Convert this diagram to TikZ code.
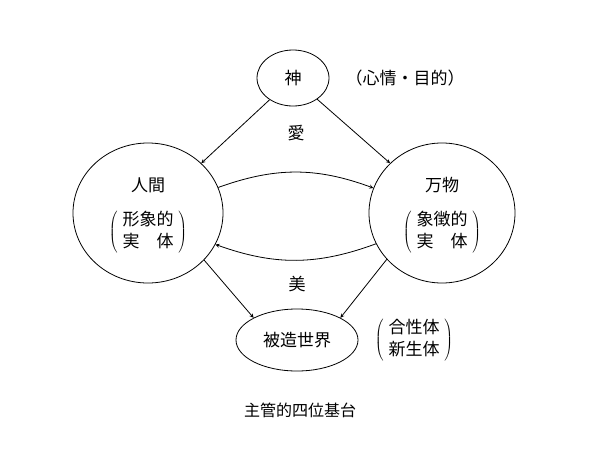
\documentclass[tikz,border=0pt]{standalone}
\usepackage{fontspec}
\setmainfont{Noto Sans CJK JP}
\usetikzlibrary{shapes,arrows}
\usetikzlibrary{positioning}
\newcommand\paren[1]{$\left(\;\mbox{\begin{tabular}{@{}c@{}}#1\end{tabular}}\;\right)$}
\begin{document}
\begin{tikzpicture}[>=stealth, x=1pt, y=-1pt,
font=\fontsize{17}{22}\selectfont,
myell/.style={
  ellipse, draw, thick, inner sep=0pt},
myarrow/.style={->, thick}
]
\useasboundingbox (0,0) rectangle (600,450);
\node[myell, minimum width=72, minimum height=56] (kami) at (293,78) {神};
\node (kamitxt) at (405,78) {（心情・目的）};
\node[myell, minimum width=150, minimum height=140] (ningen) at (148,213) {};
\node (ningent) at (148,185) {人間};
\node (ningenb) at (148,232) {\paren{形象的\\実\hspace{1em}体}};
\node[myell, minimum width=146, minimum height=140] (banbutsu) at (442,213) {};
\node (banbutsut) at (442,185) {万物};
\node (banbutsub) at (442,232) {\paren{象徴的\\実\hspace{1em}体}};
\node[myell, minimum width=122, minimum height=62] (sekai) at (297,340) {被造世界};
\node (sekaitxt) at (414,340) {\paren{合性体\\新生体}};
\node (ai) at (296,133) {愛};
\node (bi) at (297,284) {美};
\node[font=\fontsize{16}{20}\selectfont] (caption) at (300,410) {主管的四位基台};
\draw[myarrow] (kami) -- (ningen.north east);
\draw[myarrow] (kami) -- (banbutsu.north west);
\draw[myarrow] (ningen.20) to [bend left=20] (banbutsu.160);
\draw[myarrow] (banbutsu.-155) to [bend left=20] (ningen.-25);
\draw[myarrow] (ningen.-40) -- (sekai.north west);
\draw[myarrow] (banbutsu.-140) -- (sekai.north east);
\end{tikzpicture}
\end{document}
